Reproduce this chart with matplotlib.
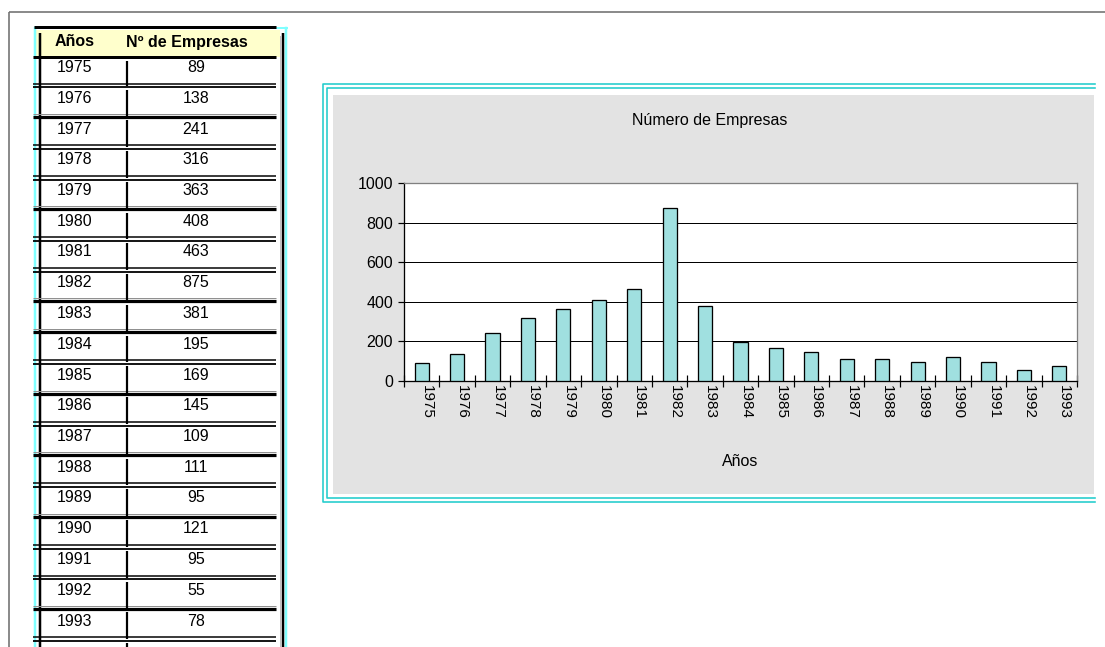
import matplotlib
matplotlib.use("Agg")
import matplotlib.pyplot as plt
from matplotlib.patches import Rectangle
from matplotlib.transforms import ScaledTranslation

plt.rcParams['font.family'] = ['Liberation Sans', 'DejaVu Sans']

# ---- data ----
years = ['1975', '1976', '1977', '1978', '1979', '1980', '1981', '1982', '1983', '1984',
         '1985', '1986', '1987', '1988', '1989', '1990', '1991', '1992', '1993']
empresas = [89, 138, 241, 316, 363, 408, 463, 875, 381, 195,
            169, 145, 109, 111, 95, 121, 95, 55, 78]
header = ['Años', 'Nº de Empresas']
chart_title = 'Número de Empresas'
x_label = 'Años'
y_ticks = [0, 200, 400, 600, 800, 1000]

W, H = 1105, 647
PX = 0.72  # points per pixel at dpi 100
fig = plt.figure(figsize=(W / 100, H / 100), dpi=100, facecolor='white')

# ---- background / decoration layer in pixel coordinates ----
bg = fig.add_axes([0, 0, 1, 1], zorder=0)
bg.set_xlim(0, W)
bg.set_ylim(H, 0)
bg.axis('off')

# outer gray sheet frame
bg.plot([9, W], [12, 12], color='#707070', lw=1.6 * PX, solid_capstyle='butt')
bg.plot([9, 9], [12, H], color='#707070', lw=1.6 * PX, solid_capstyle='butt')

# ---- table ----
cyan_t = '#7FFFFF'
bg.add_patch(Rectangle((36, 30), 244, 27, facecolor='#FFFFCC', edgecolor='none'))
bg.plot([35, 35], [28, H], color=cyan_t, lw=2.5 * PX)
bg.plot([285.5, 285.5], [28, H], color=cyan_t, lw=2.5 * PX)
bg.plot([276, 287], [28, 28], color=cyan_t, lw=2 * PX)
bg.plot([34, 276], [27, 27], color='black', lw=3 * PX, solid_capstyle='butt')
bg.plot([33, 276], [57, 57], color='black', lw=3 * PX, solid_capstyle='butt')
bg.plot([40, 40], [33, H], color='black', lw=2.5 * PX, solid_capstyle='butt')
bg.plot([280, 280], [36, H], color='#C0C0C0', lw=1 * PX)
bg.plot([282.5, 282.5], [33, H], color='black', lw=2.5 * PX, solid_capstyle='butt')

bg.text(55, 42, header[0], fontsize=11.5, fontweight='bold', ha='left', va='center')
bg.text(126, 42, header[1], fontsize=11.5, fontweight='bold', ha='left', va='center')

row_top = 57
step = 30.75
sep_style = ['d', 't', 'd', 'd', 't', 'd', 'd', 't', 't', 'd',
             't', 'd', 't', 'd', 't', 'd', 'd', 't', 'd']
prev = 57
for i, (yr, val) in enumerate(zip(years, empresas)):
    yc = 67.5 + i * step
    bg.text(57, yc, yr, fontsize=11.5, ha='left', va='center')
    bg.text(196, yc, str(val), fontsize=11.5, ha='center', va='center')
    ys = 85.5 + i * step
    if sep_style[i] == 'd':
        bg.plot([33, 276], [ys - 1.8, ys - 1.8], color='black', lw=1.5 * PX, solid_capstyle='butt')
        bg.plot([33, 276], [ys + 1.8, ys + 1.8], color='black', lw=1.8 * PX, solid_capstyle='butt')
    else:
        bg.plot([33, 276], [ys - 2.5, ys - 2.5], color='#909090', lw=1 * PX, solid_capstyle='butt')
        bg.plot([33, 276], [ys + 0.5, ys + 0.5], color='black', lw=3.2 * PX, solid_capstyle='butt')
    # column divider segment
    bg.plot([127, 127], [prev + 4, ys], color='black', lw=2.2 * PX, solid_capstyle='butt')
    prev = ys
bg.plot([127, 127], [prev + 4, H], color='black', lw=2.2 * PX, solid_capstyle='butt')

# ---- chart frame ----
cyan_c = '#22CCCC'
for off in (0, 4):
    x0, y0, y1 = 323 + off, 84 + off, 502 - off
    bg.plot([W - 10, x0, x0, W - 10], [y0, y0, y1, y1], color=cyan_c, lw=1.6 * PX)
bg.add_patch(Rectangle((333, 95), 1094 - 333, 494 - 95, facecolor='#E3E3E3', edgecolor='none'))
bg.text(710, 121, chart_title, fontsize=11.5, ha='center', va='center')
bg.text(740, 462, x_label, fontsize=11.5, ha='center', va='center')

# ---- bar chart ----
L, R, T, B = 404, 1077, 183, 381
ax = fig.add_axes([L / W, 1 - B / H, (R - L) / W, (B - T) / H], zorder=1)
ax.set_facecolor('white')
xpos = list(range(len(years)))
ax.bar(xpos, empresas, width=0.4, color='#A0E0E0', edgecolor='black', linewidth=1.3 * PX, zorder=3)
ax.set_xlim(-0.5, len(years) - 0.5)
ax.set_ylim(0, 1000)
ax.set_yticks(y_ticks)
ax.set_yticklabels([str(v) for v in y_ticks], fontsize=11.5)
ax.yaxis.grid(True, color='black', lw=1 * PX, zorder=1)
ax.set_axisbelow(True)
ax.tick_params(axis='y', direction='out', length=6 * PX, width=1.2 * PX, pad=5 * PX)

ax.set_xticks(xpos)
ax.set_xticklabels(years, rotation=270, fontsize=11, ha='center', va='top')
ax.set_xticks([i - 0.5 for i in range(len(years) + 1)], minor=True)
ax.tick_params(axis='x', which='major', length=0, pad=4 * PX)
ax.tick_params(axis='x', which='minor', direction='inout', length=12 * PX, width=1.2 * PX)
offset = ScaledTranslation(5 / 100, 0, fig.dpi_scale_trans)
for lab in ax.get_xticklabels():
    lab.set_transform(lab.get_transform() + offset)

for s in ('left', 'bottom'):
    ax.spines[s].set_color('black')
    ax.spines[s].set_linewidth(1.3 * PX)
for s in ('top', 'right'):
    ax.spines[s].set_color('#808080')
    ax.spines[s].set_linewidth(1.3 * PX)

fig.savefig('out.png', dpi=100, facecolor='white')
